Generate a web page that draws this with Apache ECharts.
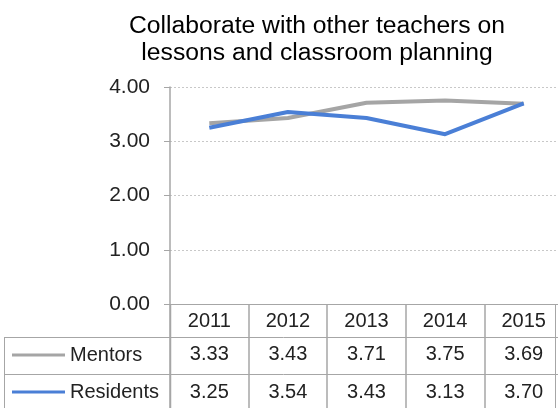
<!DOCTYPE html>
<html>
<head>
<meta charset="utf-8">
<script src="https://cdn.jsdelivr.net/npm/echarts@6/dist/echarts.min.js"></script>
<style>
  html, body { margin: 0; padding: 0; background: #fff; overflow: hidden; }
  /* the last table column runs a little past the right edge of the window */
  #chart { width: 563px; height: 408px; }
</style>
</head>
<body>
<div id="chart"></div>
<script>
// Survey averages by year
const years = ['2011', '2012', '2013', '2014', '2015'];
const mentors = [3.33, 3.43, 3.71, 3.75, 3.69];
const residents = [3.25, 3.54, 3.43, 3.13, 3.70];
const yTicks = [0, 1, 2, 3, 4];

const FONT = 'Liberation Sans, Arial, Helvetica, sans-serif';
const GRID_LINE = '#a6a6a6';
const TEXT = '#222';
const FS = 20;

const chart = echarts.init(document.getElementById('chart'), null, { renderer: 'canvas' });

// Data-table rows drawn as extra category axes under the plot
function tableAxis(offset, values) {
  return {
    type: 'category',
    data: years,
    position: 'bottom',
    offset: offset,
    boundaryGap: true,
    axisLine: { show: false },
    axisTick: { show: false },
    axisLabel: {
      fontFamily: FONT, fontSize: FS, color: TEXT, margin: 8,
      formatter: (v, i) => values[i].toFixed(2)
    }
  };
}

// One legend per table row, so each key sits at the start of its row
function rowLegend(name, top) {
  return {
    left: 12, top: top, padding: 0,
    icon: 'rect', itemWidth: 53, itemHeight: 3, itemGap: 0,
    textStyle: { fontFamily: FONT, fontSize: FS, color: TEXT, padding: [0, 0, 0, 0] },
    data: [name]
  };
}

chart.setOption({
  animation: false,
  textStyle: { fontFamily: FONT },
  title: {
    text: 'Collaborate with other teachers on\nlessons and classroom planning',
    left: 312, top: 8, textAlign: 'center',
    textStyle: { fontFamily: FONT, fontSize: 24.7, fontWeight: 'normal', color: '#000', lineHeight: 27 }
  },
  legend: [rowLegend('Mentors', 345), rowLegend('Residents', 382)],
  grid: { left: 170, right: 0, top: 87, height: 217, containLabel: false },
  xAxis: [
    {
      type: 'category',
      data: years,
      boundaryGap: true,
      axisLine: { show: true, lineStyle: { color: GRID_LINE, width: 1 } },
      axisTick: { show: true, inside: false, length: 110, lineStyle: { color: GRID_LINE, width: 1.5 } },
      axisLabel: { fontFamily: FONT, fontSize: FS, color: TEXT, margin: 7 }
    },
    tableAxis(32, mentors),
    tableAxis(70, residents)
  ],
  yAxis: {
    type: 'value', min: 0, max: 4, interval: 1,
    axisLine: { show: true, lineStyle: { color: GRID_LINE, width: 1.5 } },
    axisTick: { show: true, length: 6, lineStyle: { color: GRID_LINE } },
    splitLine: { show: true, lineStyle: { color: '#c8c8c8', type: [2, 2], width: 1 } },
    axisLabel: {
      fontFamily: FONT, fontSize: 21, color: TEXT, margin: 20,
      formatter: v => v.toFixed(2)
    },
    data: yTicks
  },
  graphic: [
    // table row separators, left border and right border
    { type: 'line', shape: { x1: 4, y1: 337.5, x2: 563, y2: 337.5 }, style: { stroke: GRID_LINE, lineWidth: 1 } },
    { type: 'line', shape: { x1: 4, y1: 374.5, x2: 563, y2: 374.5 }, style: { stroke: GRID_LINE, lineWidth: 1 } },
    { type: 'line', shape: { x1: 4.5, y1: 337, x2: 4.5, y2: 408 }, style: { stroke: GRID_LINE, lineWidth: 1 } },
    { type: 'line', shape: { x1: 170.5, y1: 304, x2: 170.5, y2: 408 }, style: { stroke: GRID_LINE, lineWidth: 1.5 } },
    { type: 'line', shape: { x1: 555.5, y1: 304, x2: 555.5, y2: 408 }, style: { stroke: GRID_LINE, lineWidth: 1 } }
  ],
  series: [
    {
      name: 'Mentors', type: 'line', data: mentors,
      symbol: 'none', color: '#a5a5a5',
      lineStyle: { width: 4, color: '#a5a5a5', join: 'round' }
    },
    {
      name: 'Residents', type: 'line', data: residents,
      symbol: 'none', color: '#4a7fd6',
      lineStyle: { width: 4, color: '#4a7fd6', join: 'round' }
    }
  ]
});
</script>
</body>
</html>
